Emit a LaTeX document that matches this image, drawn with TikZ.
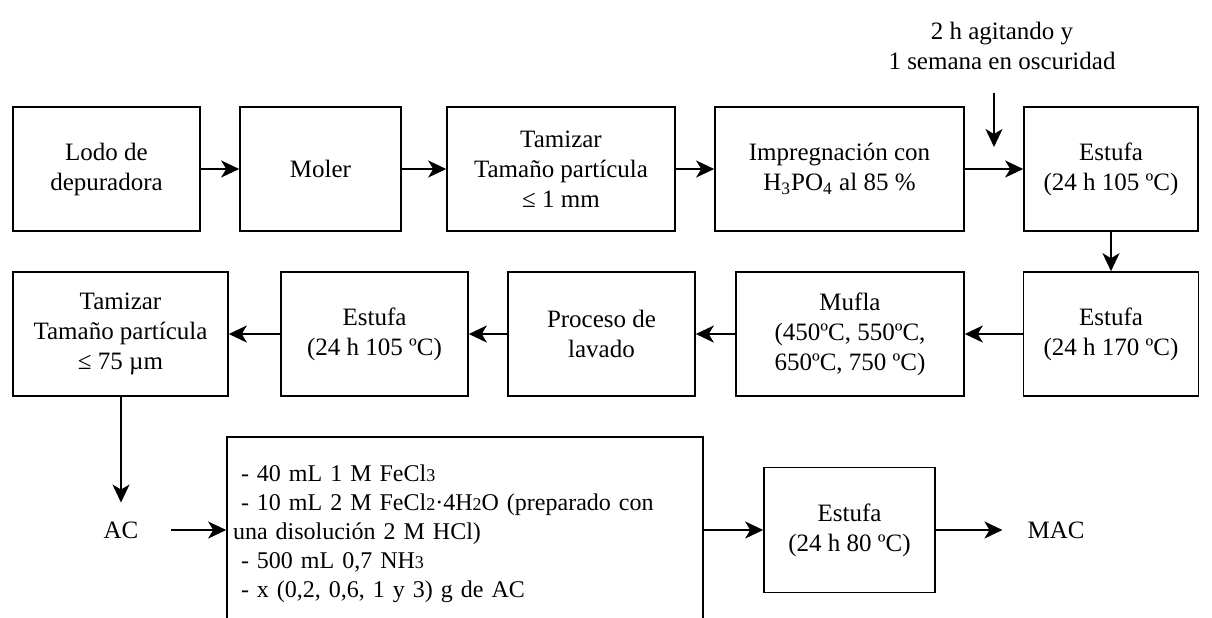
\documentclass[tikz,border=0pt]{standalone}
\usepackage{fontspec}
\setmainfont{Liberation Serif}
\usetikzlibrary{arrows.meta}
\tikzset{
	stage/.style={draw,line width=0.8pt,align=center,inner sep=2pt,font=\fontsize{12.5}{15}\selectfont},
	lbl/.style={align=center,font=\fontsize{12.5}{15}\selectfont},
	arr/.style={line width=0.8pt,-{Stealth[length=9pt,width=8.5pt,inset=2.5pt]}},
}
\newcommand{\lowdig}[1]{{\fontsize{9}{9}\selectfont #1}}

\begin{document}
\begin{tikzpicture}[x=0.5pt,y=-0.5pt]
		\useasboundingbox (0,0) rectangle (1212,617);
		\clip (0,0) rectangle (1212,617);
		\node [stage,minimum width=93.5pt,minimum height=62pt] (lodo) at (106.5,169) {Lodo de\\depuradora};
		\node [stage,minimum width=80.5pt,minimum height=62pt] (moler) at (320.5,169) {Moler};
		\node [stage,minimum width=114pt,minimum height=62pt] (tamiz1) at (561,169) {Tamizar\\Tamaño partícula\\≤ 1 mm};
		\node [stage,minimum width=124.5pt,minimum height=62pt] (impreg) at (839.5,169) {Impregnación con\\H\textsubscript{3}PO\textsubscript{4} al 85 \%};
		\node [stage,minimum width=87pt,minimum height=62pt] (estufa1) at (1111,169) {Estufa\\(24 h 105 ºC)};
		\node [lbl] (nota) at (1002,46) {2 h agitando y\\1 semana en oscuridad};
		\coordinate (caida1) at (994,93);
		\coordinate (caida2) at (994,147);
		\node [stage,minimum width=87.5pt,minimum height=62pt] (estufa2) at (1111,334) {Estufa\\(24 h 170 ºC)};
		\node [stage,minimum width=114pt,minimum height=62pt] (mufla) at (850,334) {Mufla\\(450ºC, 550ºC,\\650ºC, 750 ºC)};
		\node [stage,minimum width=93.5pt,minimum height=62pt] (lavado) at (601.5,334) {Proceso de\\lavado};
		\node [stage,minimum width=93.5pt,minimum height=62pt] (estufa3) at (374.5,334) {Estufa\\(24 h 105 ºC)};
		\node [stage,minimum width=107.5pt,minimum height=62pt] (tamiz2) at (120.5,334) {Tamizar\\Tamaño partícula\\≤ 75 µm};
		\node [lbl] (ac) at (121,530) {AC};
		\node [stage,align=left,text width=232pt,inner xsep=3pt,minimum height=97pt,font=\fontsize{12}{14.5}\selectfont] (mezcla) at (465,534) {\ - 40 mL 1 M FeCl\lowdig{3}\\\ - 10 mL 2 M FeCl\lowdig{2}·4H\lowdig{2}O (preparado con\\una disolución 2 M HCl)\\\ - 500 mL 0,7 NH\lowdig{3}\\\ - x (0,2, 0,6, 1 y 3) g de AC};
		\node [stage,minimum width=85.5pt,minimum height=62.5pt] (estufa4) at (849.5,530) {Estufa\\(24 h 80 ºC)};
		\node [lbl] (mac) at (1056,530) {MAC};
		\draw [arr] (lodo) -- (moler);
		\draw [arr] (moler) -- (tamiz1);
		\draw [arr] (tamiz1) -- (impreg);
		\draw [arr] (impreg) -- (estufa1);
		\draw [arr] (caida1) -- (caida2);
		\draw [arr] (estufa1) -- (estufa2);
		\draw [arr] (estufa2) -- (mufla);
		\draw [arr] (mufla) -- (lavado);
		\draw [arr] (lavado) -- (estufa3);
		\draw [arr] (estufa3) -- (tamiz2);
		\draw [arr,shorten >=6pt] (tamiz2.south -| ac) -- (ac);
		\draw [arr,shorten <=13pt] (ac) -- (ac -| mezcla.west);
		\draw [arr] (estufa4.west -| mezcla.east) -- (estufa4);
		\draw [arr,shorten >=9pt] (estufa4) -- (mac);
	\end{tikzpicture}
\end{document}
